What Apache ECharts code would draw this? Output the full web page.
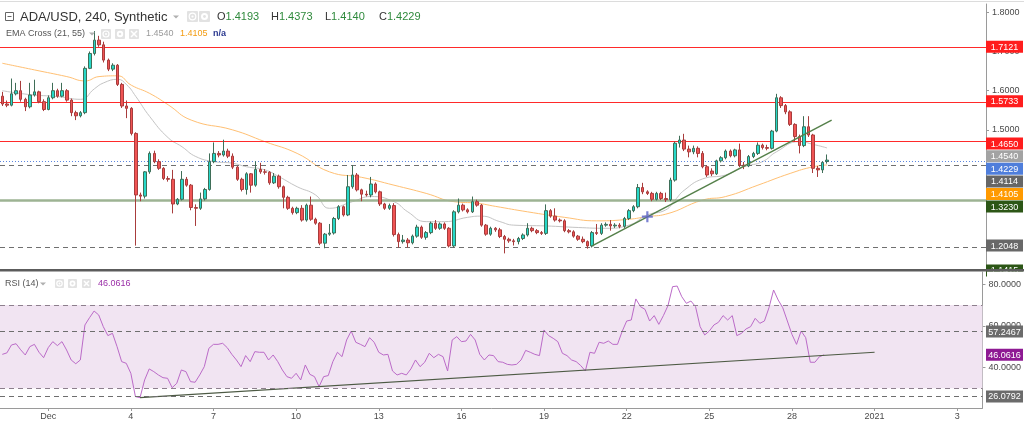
<!DOCTYPE html>
<html><head><meta charset="utf-8">
<script src="https://cdn.jsdelivr.net/npm/echarts@6/dist/echarts.min.js"></script>
<style>html,body{margin:0;padding:0;background:#fff}#c{width:1024px;height:424px}</style>
</head><body><div id="c"></div>
<script>
// ---- time slots (4h candles) ----
const slotCount = 214;
const tickSlots = [10, 28, 46, 64, 82, 100, 118, 136, 154, 172, 190, 208];
const tickLabels = ['Dec', '4', '7', '10', '13', '16', '19', '22', '25', '28', '2021', '3'];

// ---- candles ----
const opens = [
1.586,1.566,1.563,1.592,1.600,1.578,1.559,1.589,1.597,1.572,
1.552,1.582,1.600,1.586,1.600,1.576,1.544,1.536,1.544,1.657,
1.695,1.729,1.717,1.678,1.655,1.665,1.616,1.561,1.555,1.491,
1.334,1.331,1.393,1.440,1.419,1.402,1.376,1.374,1.311,1.323,
1.374,1.359,1.302,1.300,1.324,1.348,1.419,1.440,1.436,1.446,
1.433,1.405,1.374,1.348,1.388,1.359,1.399,1.393,1.392,1.365,
1.382,1.355,1.328,1.300,1.289,1.300,1.270,1.308,1.272,1.262,
1.211,1.234,1.237,1.274,1.304,1.283,1.355,1.385,1.347,1.336,
1.334,1.362,1.342,1.311,1.300,1.307,1.233,1.215,1.219,1.212,
1.229,1.252,1.226,1.238,1.262,1.249,1.260,1.249,1.204,1.291,
1.308,1.296,1.291,1.317,1.308,1.257,1.234,1.249,1.245,1.228,
1.221,1.217,1.215,1.223,1.232,1.249,1.243,1.238,1.236,1.294,
1.280,1.270,1.268,1.243,1.240,1.229,1.221,1.215,1.204,1.238,
1.236,1.257,1.259,1.255,1.257,1.254,1.274,1.294,1.304,1.353,
1.342,1.338,1.323,1.338,1.325,1.322,1.372,1.466,1.474,1.451,
1.444,1.453,1.440,1.406,1.395,1.388,1.421,1.429,1.446,1.434,
1.449,1.410,1.408,1.432,1.440,1.461,1.455,1.453,1.497,1.582,
1.562,1.546,1.514,1.483,1.460,1.508,1.487,1.402,1.398,1.4193];
const closes = [
1.566,1.563,1.592,1.600,1.578,1.559,1.589,1.597,1.572,1.552,
1.582,1.600,1.586,1.600,1.576,1.544,1.536,1.544,1.657,1.695,
1.729,1.717,1.678,1.655,1.665,1.616,1.561,1.555,1.491,1.334,
1.331,1.393,1.440,1.419,1.402,1.376,1.374,1.311,1.323,1.374,
1.359,1.302,1.300,1.324,1.348,1.419,1.440,1.436,1.446,1.433,
1.405,1.374,1.348,1.388,1.359,1.399,1.393,1.392,1.365,1.382,
1.355,1.328,1.300,1.289,1.300,1.270,1.308,1.272,1.262,1.211,
1.234,1.237,1.274,1.304,1.283,1.355,1.385,1.347,1.336,1.334,
1.362,1.342,1.311,1.300,1.307,1.233,1.215,1.219,1.212,1.229,
1.252,1.226,1.238,1.262,1.249,1.260,1.249,1.204,1.291,1.308,
1.296,1.291,1.317,1.308,1.257,1.234,1.249,1.245,1.228,1.221,
1.217,1.215,1.223,1.232,1.249,1.243,1.238,1.236,1.294,1.280,
1.270,1.268,1.243,1.240,1.229,1.221,1.215,1.204,1.238,1.236,
1.257,1.259,1.255,1.257,1.254,1.274,1.294,1.304,1.353,1.342,
1.338,1.323,1.338,1.325,1.322,1.372,1.466,1.474,1.451,1.444,
1.453,1.440,1.406,1.385,1.388,1.421,1.429,1.446,1.434,1.449,
1.410,1.408,1.432,1.440,1.461,1.455,1.453,1.497,1.582,1.562,
1.546,1.514,1.483,1.460,1.508,1.487,1.402,1.398,1.417,1.4229];
const lows = [
1.561,1.558,1.560,1.588,1.572,1.548,1.555,1.585,1.568,1.548,
1.550,1.578,1.582,1.583,1.572,1.535,1.525,1.532,1.540,1.655,
1.690,1.712,1.672,1.650,1.650,1.612,1.556,1.530,1.486,1.2048,
1.318,1.325,1.388,1.415,1.398,1.372,1.368,1.287,1.308,1.320,
1.355,1.295,1.255,1.296,1.320,1.345,1.415,1.430,1.432,1.428,
1.400,1.370,1.343,1.335,1.340,1.355,1.388,1.386,1.360,1.362,
1.350,1.300,1.296,1.284,1.285,1.266,1.266,1.268,1.258,1.206,
1.198,1.230,1.233,1.270,1.279,1.280,1.350,1.343,1.318,1.330,
1.328,1.338,1.306,1.296,1.296,1.228,1.200,1.210,1.200,1.208,
1.225,1.222,1.220,1.234,1.245,1.245,1.245,1.200,1.200,1.287,
1.292,1.287,1.288,1.304,1.253,1.230,1.230,1.240,1.224,1.185,
1.212,1.205,1.208,1.219,1.228,1.239,1.234,1.232,1.232,1.276,
1.266,1.264,1.239,1.236,1.225,1.217,1.211,1.197,1.200,1.232,
1.232,1.253,1.243,1.250,1.249,1.250,1.270,1.290,1.300,1.336,
1.334,1.318,1.320,1.321,1.316,1.318,1.368,1.455,1.446,1.430,
1.438,1.430,1.402,1.380,1.382,1.385,1.417,1.425,1.430,1.430,
1.405,1.400,1.405,1.428,1.436,1.450,1.448,1.450,1.494,1.556,
1.540,1.510,1.470,1.440,1.456,1.482,1.390,1.380,1.390,1.4140];
const highs = [
1.597,1.575,1.631,1.620,1.625,1.582,1.620,1.628,1.600,1.578,
1.588,1.620,1.605,1.620,1.604,1.580,1.549,1.548,1.662,1.700,
1.752,1.740,1.725,1.682,1.670,1.668,1.620,1.575,1.558,1.494,
1.340,1.395,1.445,1.447,1.425,1.405,1.382,1.398,1.326,1.395,
1.380,1.362,1.310,1.340,1.352,1.440,1.468,1.446,1.475,1.452,
1.440,1.408,1.378,1.392,1.390,1.420,1.416,1.400,1.395,1.390,
1.386,1.358,1.332,1.304,1.304,1.308,1.312,1.330,1.276,1.265,
1.237,1.260,1.278,1.308,1.307,1.385,1.410,1.390,1.350,1.345,
1.380,1.366,1.345,1.314,1.312,1.313,1.238,1.232,1.224,1.233,
1.258,1.256,1.242,1.266,1.270,1.264,1.264,1.252,1.295,1.325,
1.312,1.300,1.330,1.322,1.311,1.260,1.253,1.252,1.250,1.232,
1.225,1.222,1.227,1.236,1.262,1.253,1.247,1.242,1.310,1.298,
1.300,1.274,1.272,1.247,1.244,1.232,1.228,1.218,1.242,1.260,
1.262,1.264,1.270,1.262,1.262,1.278,1.298,1.308,1.362,1.365,
1.346,1.342,1.342,1.342,1.340,1.378,1.470,1.485,1.490,1.460,
1.460,1.458,1.446,1.410,1.402,1.424,1.433,1.450,1.450,1.452,
1.465,1.418,1.436,1.444,1.468,1.465,1.462,1.500,1.592,1.586,
1.566,1.550,1.517,1.488,1.535,1.535,1.490,1.408,1.420,1.4373];

// ---- EMA Cross (21, 55), read at points ----
const ema21Pts = [[0,1.600],[6,1.590],[12,1.585],[17,1.578],[20,1.605],[22,1.620],[25,1.629],[27,1.615],
 [29,1.585],[32,1.534],[36,1.480],[39,1.457],[42,1.432],[46,1.419],[50,1.415],[53,1.406],[57,1.398],
 [60,1.381],[64,1.355],[68,1.334],[71,1.300],[76,1.317],[80,1.330],[85,1.317],[88,1.291],[92,1.266],
 [96,1.266],[101,1.277],[104,1.280],[108,1.266],[111,1.257],[118,1.255],[125,1.251],[131,1.249],
 [136,1.257],[140,1.283],[144,1.296],[146,1.321],[148,1.346],[152,1.375],[157,1.385],[161,1.406],
 [165,1.419],[168,1.444],[173,1.470],[176,1.463],[179,1.4540]];
const ema55Pts = [[0,1.670],[7,1.653],[14,1.636],[18,1.625],[21,1.636],[25,1.638],[28,1.614],[32,1.593],
 [36,1.564],[41,1.525],[50,1.500],[57,1.470],[64,1.440],[71,1.393],[78,1.379],[85,1.359],[92,1.338],
 [98,1.317],[103,1.313],[107,1.305],[114,1.291],[122,1.277],[129,1.268],[136,1.272],[140,1.279],
 [144,1.285],[152,1.321],[157,1.330],[164,1.359],[171,1.389],[176,1.406],[179,1.4105]];

// ---- RSI (14) ----
const rsi = [
46.3,47.0,50.8,51.4,48.5,46.0,50.0,51.1,47.3,44.7,
49.5,52.4,50.5,52.4,48.4,43.6,41.8,43.6,60.4,63.9,
67.1,65.2,59.6,55.3,56.4,50.0,42.8,42.0,37.2,26.0,
25.5,34.0,39.3,38.0,36.4,35.1,34.8,30.3,32.4,38.8,
38.0,33.2,32.9,36.4,40.4,49.2,51.1,51.1,51.6,49.5,
46.3,43.6,40.4,45.7,42.8,47.6,47.3,47.3,43.6,46.0,
42.8,38.8,35.6,34.8,37.2,34.0,41.2,36.7,35.6,30.8,
35.6,36.1,42.8,47.3,45.2,53.2,57.5,52.1,51.1,50.0,
54.3,52.1,47.3,46.0,46.3,38.3,36.4,37.2,36.4,39.3,
43.6,40.4,42.5,46.8,44.7,46.3,45.2,38.3,53.2,54.8,
52.4,52.7,55.9,53.2,46.3,43.6,46.0,45.7,42.8,42.5,
41.5,41.2,41.5,43.6,48.2,47.3,46.3,45.7,58.0,55.3,
54.0,52.4,46.8,45.7,43.6,42.8,40.9,38.3,47.3,46.8,
52.1,51.6,52.7,51.1,51.1,57.2,62.3,62.8,72.9,69.2,
67.9,62.3,64.9,60.7,64.9,69.7,78.8,79.1,74.0,70.8,
71.9,69.2,59.6,55.6,57.5,60.4,61.7,64.9,62.8,64.9,
55.3,56.4,58.5,59.6,63.6,61.2,62.3,68.7,77.2,72.4,
68.7,62.3,55.9,51.1,57.5,54.3,42.5,42.5,45.2,46.0616];

// ---- drawings / levels ----
const priceTicks = [1.2, 1.3, 1.4, 1.5, 1.6, 1.7, 1.8];
const rsiTicks = [40, 60, 80];
const redLevels = [1.7121, 1.5733, 1.4650];
const greenLevel = 1.3230;
const dashedLevels = [1.4114, 1.2048];
const lastPrice = 1.4229;
const priceTrend = [[128, 1.204], [180, 1.525]];
const crossPoint = [[140, 1.2786]];
const rsiBand = [30, 70];
const rsiDashed = [57.2467, 26.0792];
const rsiTrend = [[30, 25.5], [190, 47.3]];
const priceLabels = [
  {v: 1.7121, bg: '#ff1d1d'}, {v: 1.5733, bg: '#ff1d1d'}, {v: 1.4650, bg: '#ff1d1d'},
  {v: 1.4540, bg: '#a3a3a3'}, {v: 1.4229, bg: '#4f7edb'}, {v: 1.4114, bg: '#666666'},
  {v: 1.4105, bg: '#ff9a00'}, {v: 1.3230, bg: '#2c5616'}, {v: 1.2048, bg: '#686868'},
  {v: 1.1415, bg: '#2c5616'}];
const rsiLabels = [{v: 57.2467, bg: '#6b6b6b'}, {v: 46.0616, bg: '#8e1a93'}, {v: 26.0792, bg: '#6b6b6b'}];

const FONT = '"Liberation Sans", Arial, sans-serif';
const SMALL = 9;
const cats = Array.from({length: slotCount}, (_, i) => String(i));
const candleData = opens.map((o, i) => [o, closes[i], lows[i], highs[i]]);
const isTick = (i) => tickSlots.indexOf(i) >= 0;

const chart = echarts.init(document.getElementById('c'), null, {renderer: 'canvas'});
const option = {
  animation: false,
  backgroundColor: '#ffffff',
  grid: [
    {left: 0, right: 38, top: 4, height: 265},
    {left: 0, right: 38, top: 272, height: 136}
  ],
  xAxis: [
    {type: 'category', gridIndex: 0, data: cats, boundaryGap: true, show: false},
    {type: 'category', gridIndex: 1, data: cats, boundaryGap: true,
     axisLine: {lineStyle: {color: '#9a9a9a', width: 1}},
     axisTick: {show: true, alignWithLabel: true, interval: isTick, length: 3, lineStyle: {color: '#9a9a9a'}},
     axisLabel: {interval: isTick, formatter: (v) => tickLabels[tickSlots.indexOf(+v)] || '',
                 color: '#4a4a4a', fontSize: SMALL, fontFamily: FONT, margin: 4},
     splitLine: {show: false}}
  ],
  yAxis: [
    {type: 'value', gridIndex: 0, position: 'right', min: 1.14515, max: 1.82117,
     axisLine: {show: true, lineStyle: {color: '#9a9a9a'}},
     axisTick: {show: true, length: 3, lineStyle: {color: '#9a9a9a'}, customValues: priceTicks},
     axisLabel: {customValues: priceTicks, formatter: (v) => v.toFixed(4), color: '#4a4a4a',
                 fontSize: SMALL, fontFamily: FONT, margin: 6},
     splitLine: {show: false}},
    {type: 'value', gridIndex: 1, position: 'right', min: 20.54, max: 85.84,
     axisLine: {show: true, lineStyle: {color: '#9a9a9a'}},
     axisTick: {show: true, length: 3, lineStyle: {color: '#9a9a9a'}, customValues: rsiTicks},
     axisLabel: {customValues: rsiTicks, formatter: (v) => v.toFixed(4), color: '#4a4a4a',
                 fontSize: SMALL, fontFamily: FONT, margin: 6},
     splitLine: {show: false}}
  ],
  series: [
    {type: 'line', xAxisIndex: 0, yAxisIndex: 0, data: ema55Pts, smooth: true, showSymbol: false,
     lineStyle: {color: '#ffc073', width: 1}, z: 1, silent: true},
    {type: 'line', xAxisIndex: 0, yAxisIndex: 0, data: ema21Pts, smooth: true, showSymbol: false,
     lineStyle: {color: '#c4c4c4', width: 1}, z: 1, silent: true},
    {type: 'candlestick', xAxisIndex: 0, yAxisIndex: 0, data: candleData, barWidth: 3, z: 3,
     itemStyle: {color: '#26d8c8', color0: '#f05454', borderColor: '#3f6e58', borderColor0: '#a83c3c', borderWidth: 1},
     markLine: {symbol: 'none', silent: true, label: {show: false}, z: 2,
       data: [
         ...redLevels.map(v => ({yAxis: v, lineStyle: {color: '#ff2a2a', width: 1, type: 'solid'}})),
         {yAxis: greenLevel, lineStyle: {color: '#9db393', width: 2.5, type: 'solid'}},
         ...dashedLevels.map(v => ({yAxis: v, lineStyle: {color: '#707070', width: 1, type: [5, 4]}})),
         {yAxis: lastPrice, lineStyle: {color: '#5b86e0', width: 1, type: [1, 2]}}
       ]}},
    {type: 'line', xAxisIndex: 0, yAxisIndex: 0, data: priceTrend, showSymbol: false, z: 4,
     lineStyle: {color: '#55804a', width: 1.5}, silent: true},
    {type: 'scatter', xAxisIndex: 0, yAxisIndex: 0, data: crossPoint, z: 5, silent: true,
     symbol: 'path://M4,0 L6,0 L6,4 L10,4 L10,6 L6,6 L6,10 L4,10 L4,6 L0,6 L0,4 L4,4 Z',
     symbolSize: 11, itemStyle: {color: '#5a63c8'}},
    {type: 'line', xAxisIndex: 1, yAxisIndex: 1, data: rsi, showSymbol: false, z: 3,
     lineStyle: {color: '#bb6bc8', width: 1}, silent: true,
     markArea: {silent: true, itemStyle: {color: '#f1e4f2'}, data: [[{yAxis: rsiBand[1]}, {yAxis: rsiBand[0]}]]},
     markLine: {symbol: 'none', silent: true, label: {show: false},
       data: [
         ...rsiBand.map(v => ({yAxis: v, lineStyle: {color: '#8d7f8d', width: 1, type: [5, 4]}})),
         ...rsiDashed.map(v => ({yAxis: v, lineStyle: {color: '#6e6e6e', width: 1, type: [5, 4]}}))
       ]}},
    {type: 'line', xAxisIndex: 1, yAxisIndex: 1, data: rsiTrend, showSymbol: false, z: 4,
     lineStyle: {color: '#4d5a44', width: 1.2}, silent: true}
  ]
};
chart.setOption(option);

// ---- overlay: value labels on the price scale, legends, pane separator ----
function valueBox(y, text, bg) {
  return [
    {type: 'rect', z: 100, shape: {x: 986, y: y - 6, width: 37, height: 12}, style: {fill: bg}},
    {type: 'text', z: 101, style: {x: 1004.5, y: y + 0.5, text: text, fill: '#ffffff',
      font: SMALL + 'px ' + FONT, align: 'center', verticalAlign: 'middle'}}
  ];
}
const gfx = [];
let prevY = -100;
priceLabels.slice().sort((a, b) => b.v - a.v).forEach(l => {
  let y = chart.convertToPixel({yAxisIndex: 0}, l.v);
  y = Math.max(y, prevY + 12.6);
  prevY = y;
  gfx.push(...valueBox(y, l.v.toFixed(4), l.bg));
});
rsiLabels.forEach(l => {
  const y = chart.convertToPixel({yAxisIndex: 1}, l.v);
  gfx.push(...valueBox(y, l.v.toFixed(4), l.bg));
});
// pane separator and mask
gfx.push({type: 'rect', z: 110, shape: {x: 0, y: 269, width: 1024, height: 2.6}, style: {fill: '#5c5c5c'}});
gfx.push({type: 'rect', z: 109, shape: {x: 987, y: 271.6, width: 37, height: 6}, style: {fill: '#ffffff'}});
gfx.push({type: 'rect', z: 110, shape: {x: 0, y: 1, width: 1024, height: 1}, style: {fill: '#dcdcdc'}});

function txt(x, y, s, color, size, weight) {
  return {type: 'text', z: 120, style: {x: x, y: y, text: s, fill: color,
    font: (weight || 'normal') + ' ' + size + 'px ' + FONT, align: 'left', verticalAlign: 'middle'}};
}
function iconBox(x, y, w, kind) {
  const els = [{type: 'rect', z: 120, shape: {x: x, y: y, width: w, height: w, r: 1}, style: {fill: '#e2e2e2'}}];
  const cx = x + w / 2, cy = y + w / 2;
  if (kind === 'eye') {
    els.push({type: 'circle', z: 121, shape: {cx: cx, cy: cy, r: w * 0.3}, style: {fill: 'none', stroke: '#ffffff', lineWidth: 1.2}});
    els.push({type: 'circle', z: 121, shape: {cx: cx, cy: cy, r: w * 0.1}, style: {fill: '#ffffff'}});
  } else if (kind === 'gear') {
    els.push({type: 'circle', z: 121, shape: {cx: cx, cy: cy, r: w * 0.32}, style: {fill: '#ffffff'}});
    els.push({type: 'circle', z: 122, shape: {cx: cx, cy: cy, r: w * 0.13}, style: {fill: '#e2e2e2'}});
  } else {
    els.push({type: 'line', z: 121, shape: {x1: x + 2, y1: y + 2, x2: x + w - 2, y2: y + w - 2}, style: {stroke: '#ffffff', lineWidth: 1.4}});
    els.push({type: 'line', z: 121, shape: {x1: x + w - 2, y1: y + 2, x2: x + 2, y2: y + w - 2}, style: {stroke: '#ffffff', lineWidth: 1.4}});
  }
  return els;
}
function caret(x, y) {
  return {type: 'polygon', z: 120, shape: {points: [[x, y - 1.5], [x + 6, y - 1.5], [x + 3, y + 1.5]]}, style: {fill: '#b0b0b0'}};
}
// line 1
gfx.push({type: 'rect', z: 120, shape: {x: 5.5, y: 12.5, width: 8, height: 8}, style: {fill: 'none', stroke: '#666', lineWidth: 1}});
gfx.push({type: 'line', z: 120, shape: {x1: 7.5, y1: 16.5, x2: 11.5, y2: 16.5}, style: {stroke: '#666', lineWidth: 1}});
gfx.push(txt(20, 17, 'ADA/USD, 240, Synthetic', '#333333', 13));
gfx.push(caret(173, 17));
gfx.push(...iconBox(187, 11, 11, 'eye'), ...iconBox(199, 11, 11, 'gear'));
const ohlcLab = [['O', opens[179]], ['H', highs[179]], ['L', lows[179]], ['C', closes[179]]];
const ohlcX = [217, 271, 325, 379];
ohlcLab.forEach((p, i) => {
  gfx.push({type: 'text', z: 120, style: {x: ohlcX[i], y: 17, text: '{a|' + p[0] + '}{b|' + p[1].toFixed(4) + '}',
    rich: {a: {fill: '#333333', font: '11px ' + FONT}, b: {fill: '#2f8a3c', font: '11px ' + FONT}},
    verticalAlign: 'middle', align: 'left'}});
});
// line 2
gfx.push(txt(6, 34, 'EMA Cross (21, 55)', '#555555', 9));
gfx.push(caret(89, 34));
gfx.push(...iconBox(101, 29, 10, 'eye'), ...iconBox(115, 29, 10, 'gear'), ...iconBox(129, 29, 10, 'x'));
gfx.push(txt(146, 34, ema21Pts[ema21Pts.length - 1][1].toFixed(4), '#9a9a9a', SMALL));
gfx.push(txt(180, 34, ema55Pts[ema55Pts.length - 1][1].toFixed(4), '#f39c12', SMALL));
gfx.push(txt(213, 34, 'n/a', '#2b3990', SMALL, 'bold'));
// RSI legend
gfx.push(txt(5, 284, 'RSI (14)', '#555555', SMALL));
gfx.push(caret(40, 284));
gfx.push(...iconBox(55, 279, 9, 'eye'), ...iconBox(68, 279, 9, 'gear'), ...iconBox(82, 279, 9, 'x'));
gfx.push(txt(98, 284, rsi[rsi.length - 1].toFixed(4), '#9b2fa8', SMALL));

chart.setOption({graphic: {elements: gfx}});
</script>
</body></html>
